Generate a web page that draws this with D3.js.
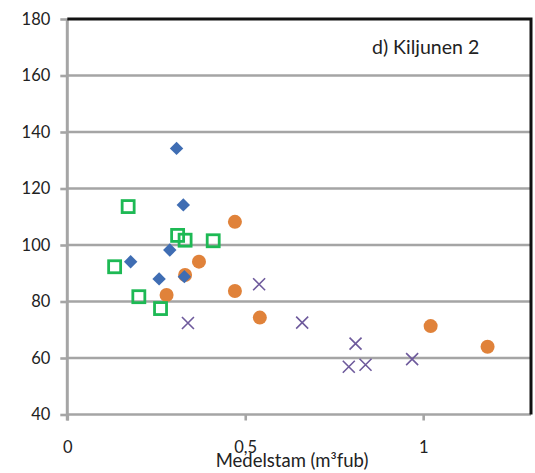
<!DOCTYPE html>
<html>
<head>
<meta charset="utf-8">
<script src="https://cdn.jsdelivr.net/npm/d3@7"></script>
<style>
  html, body { margin: 0; padding: 0; background: #fff; }
  svg { display: block; }
  text { font-family: Lato, "Open Sans", sans-serif; fill: #222; }
</style>
</head>
<body>
<svg id="chart" width="535" height="473"></svg>
<script>
// Medelstam (m³fub) vs. value, four series
const blueX   = [0.307, 0.326, 0.288, 0.178, 0.258, 0.329];
const blueY   = [134.2, 114.2, 98.2, 94.1, 88.0, 88.8];
const orangeX = [0.471, 0.370, 0.331, 0.279, 0.471, 0.541, 1.021, 1.181];
const orangeY = [108.2, 94.1, 89.4, 82.3, 83.7, 74.3, 71.3, 64.0];
const greenX  = [0.171, 0.310, 0.331, 0.410, 0.133, 0.201, 0.262];
const greenY  = [113.6, 103.4, 101.7, 101.5, 92.3, 81.7, 77.5];
const purpleX = [0.539, 0.339, 0.660, 0.810, 0.791, 0.838, 0.969];
const purpleY = [86.1, 72.4, 72.5, 65.1, 56.9, 57.6, 59.6];

const xTicks = [0, 0.5, 1];
const xTickLabels = ["0", "0,5", "1"];
const yTicks = [40, 60, 80, 100, 120, 140, 160, 180];
const xTitle = "Medelstam (m³fub)";
const chartTitle = "d) Kiljunen 2";

const svg = d3.select("#chart");
const plotL = 67.3, plotR = 531, plotT = 19, plotB = 414.5;

const x = d3.scaleLinear().domain([0, 1.303]).range([plotL, plotR]);
const y = d3.scaleLinear().domain([40, 180]).range([plotB, plotT]);

const gridColor = "#a5a5a5";

// horizontal gridlines
svg.append("g")
  .selectAll("line")
  .data(yTicks.filter(d => d > 40 && d < 180))
  .join("line")
  .attr("x1", plotL).attr("x2", plotR)
  .attr("y1", d => y(d)).attr("y2", d => y(d))
  .attr("stroke", gridColor).attr("stroke-width", 2.6);

// y axis
const yAxis = svg.append("g")
  .attr("transform", `translate(${plotL},0)`)
  .call(d3.axisLeft(y).tickValues(yTicks).tickSize(7).tickPadding(10).tickFormat(d3.format("d")));
yAxis.select(".domain").attr("stroke", gridColor).attr("stroke-width", 3).attr("d", `M0,${plotT}V${plotB + 6}`);
yAxis.selectAll(".tick line").attr("stroke", gridColor).attr("stroke-width", 2.6);
yAxis.selectAll(".tick text").style("font-size", "16.5px").attr("fill", "#222");

// x axis
const xAxis = svg.append("g")
  .attr("transform", `translate(0,${plotB})`)
  .call(d3.axisBottom(x).tickValues(xTicks).tickSize(6).tickPadding(21)
    .tickFormat((d, i) => xTickLabels[i]));
xAxis.select(".domain").attr("stroke", gridColor).attr("stroke-width", 2.6).attr("d", `M${plotL},0H${plotR}`);
xAxis.selectAll(".tick line").attr("stroke", gridColor).attr("stroke-width", 2.6);
xAxis.selectAll(".tick text").style("font-size", "16.5px").attr("fill", "#222");

// plot frame: top and right edges
svg.append("path")
  .attr("d", `M${plotL},${plotT}H${plotR}V${plotB}`)
  .attr("fill", "none").attr("stroke", "#111").attr("stroke-width", 3);

// series
const diamond = d3.symbol().type(d3.symbolDiamond2).size(115);

svg.append("g").selectAll("circle")
  .data(d3.zip(orangeX, orangeY))
  .join("circle")
  .attr("cx", d => x(d[0])).attr("cy", d => y(d[1]))
  .attr("r", 7).attr("fill", "#e0823a");

svg.append("g").selectAll("path")
  .data(d3.zip(blueX, blueY))
  .join("path")
  .attr("d", diamond)
  .attr("transform", d => `translate(${x(d[0])},${y(d[1])})`)
  .attr("fill", "#3f6db3");

svg.append("g").selectAll("rect")
  .data(d3.zip(greenX, greenY))
  .join("rect")
  .attr("x", d => x(d[0]) - 6).attr("y", d => y(d[1]) - 6)
  .attr("width", 12).attr("height", 12)
  .attr("fill", "none").attr("stroke", "#1db954").attr("stroke-width", 2.8);

svg.append("g").selectAll("path")
  .data(d3.zip(purpleX, purpleY))
  .join("path")
  .attr("d", d => {
    const cx = x(d[0]), cy = y(d[1]), s = 6;
    return `M${cx - s},${cy - s}L${cx + s},${cy + s}M${cx - s},${cy + s}L${cx + s},${cy - s}`;
  })
  .attr("stroke", "#6e5a9c").attr("stroke-width", 1.6).attr("fill", "none");

// titles
svg.append("text")
  .attr("x", 292).attr("y", 467)
  .attr("text-anchor", "middle")
  .style("font-size", "18.5px")
  .text(xTitle);

svg.append("text")
  .attr("x", 372).attr("y", 54)
  .style("font-size", "19.5px")
  .text(chartTitle);
</script>
</body>
</html>
